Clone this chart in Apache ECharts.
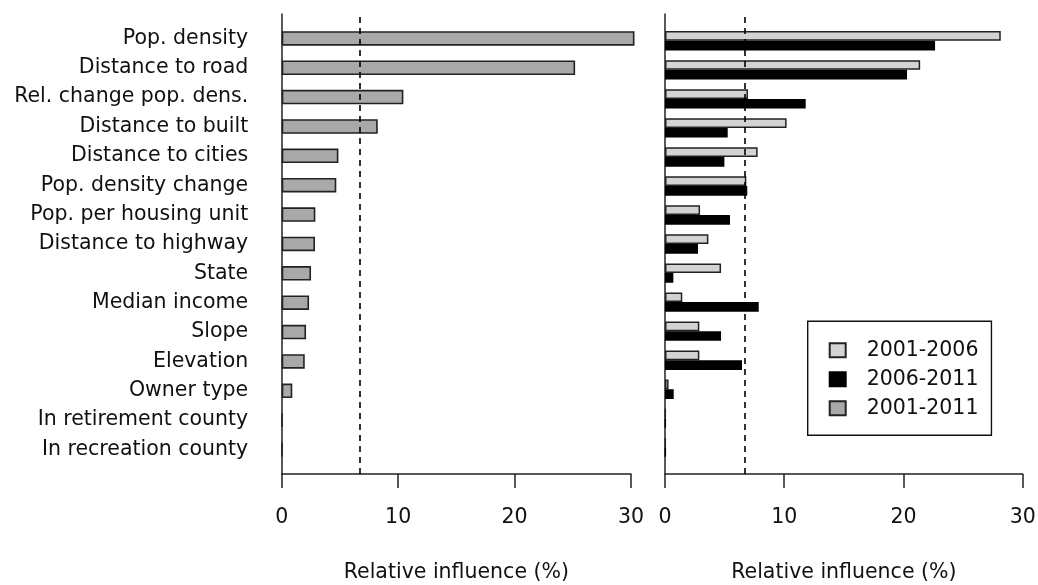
<!DOCTYPE html>
<html>
<head>
<meta charset="utf-8">
<script src="https://cdn.jsdelivr.net/npm/echarts@6/dist/echarts.min.js"></script>
<style>html,body{margin:0;padding:0;background:#fff;}#c{width:1038px;height:585px;}</style>
</head>
<body>
<div id="c"></div>
<script>
const categories = ['Pop. density','Distance to road','Rel. change pop. dens.','Distance to built','Distance to cities','Pop. density change','Pop. per housing unit','Distance to highway','State','Median income','Slope','Elevation','Owner type','In retirement county','In recreation county'];
const influence2001_2011 = [30.3, 25.2, 10.45, 8.25, 4.87, 4.69, 2.89, 2.86, 2.52, 2.35, 2.09, 1.98, 0.91, 0.05, 0.05];
const influence2001_2006 = [28.16, 21.4, 6.96, 10.2, 7.77, 6.82, 2.94, 3.64, 4.7, 1.45, 2.88, 2.88, 0.3, 0.05, 0.05];
const influence2006_2011 = [22.65, 20.3, 11.8, 5.26, 4.98, 6.9, 5.45, 2.77, 0.7, 7.86, 4.7, 6.46, 0.73, 0.05, 0.05];
const xTicks = [0, 10, 20, 30];
const referenceLine = 6.667; // 100% / 15 predictors
const axisTitle = 'Relative influence (%)';
const seriesNames = ['2001-2006', '2006-2011', '2001-2011'];

const FONT = 'DejaVu Sans';
const FS = 20.5;
const INK = '#222';

const chart = echarts.init(document.getElementById('c'), null, {renderer: 'canvas'});

function frameX(gridIndex) {
  return {
    type: 'value', gridIndex: gridIndex, min: xTicks[0], max: xTicks[xTicks.length - 1], interval: 10,
    axisLine: {show: true, onZero: false, lineStyle: {color: INK, width: 1.5}},
    axisTick: {show: true, inside: false, length: 14, lineStyle: {color: INK, width: 1.5}},
    axisLabel: {show: true, margin: 33, fontFamily: FONT, fontSize: FS, color: '#111'},
    splitLine: {show: false},
    name: axisTitle, nameLocation: 'middle', nameGap: 88,
    nameTextStyle: {fontFamily: FONT, fontSize: FS, color: '#111'}
  };
}
function hiddenX(gridIndex) {
  return {type: 'value', gridIndex: gridIndex, min: xTicks[0], max: xTicks[xTicks.length - 1], show: false};
}
function frameY(gridIndex) {
  return {
    type: 'value', gridIndex: gridIndex, min: 0, max: 1,
    axisLine: {show: true, onZero: false, lineStyle: {color: INK, width: 1.5}},
    axisTick: {show: false}, axisLabel: {show: false}, splitLine: {show: false}
  };
}
function catY(gridIndex, showLabels) {
  return {
    type: 'category', gridIndex: gridIndex, data: categories, inverse: true,
    axisLine: {show: false}, axisTick: {show: false}, splitLine: {show: false},
    axisLabel: {show: showLabels, margin: 33.5, fontFamily: FONT, fontSize: FS, color: '#111', interval: 0}
  };
}
function refLine(xi, yi) {
  return {
    type: 'line', xAxisIndex: xi, yAxisIndex: yi, data: [], z: 10, silent: true,
    markLine: {
      silent: true, symbol: 'none', label: {show: false},
      lineStyle: {color: '#000', type: [6, 5], width: 1.6},
      emphasis: {disabled: true},
      data: [{xAxis: referenceLine}]
    }
  };
}

const option = {
  backgroundColor: '#fff',
  animation: false,
  grid: [
    {left: 281.7, top: 14, width: 349.3, height: 460, containLabel: false, outerBoundsMode: 'none'},
    {left: 281.7, top: 23.7, width: 349.3, height: 440.5, containLabel: false, outerBoundsMode: 'none'},
    {left: 665, top: 14, width: 357.7, height: 460, containLabel: false, outerBoundsMode: 'none'},
    {left: 665, top: 26.3, width: 357.7, height: 435.5, containLabel: false, outerBoundsMode: 'none'}
  ],
  xAxis: [frameX(0), hiddenX(1), frameX(2), hiddenX(3)],
  yAxis: [frameY(0), catY(1, true), frameY(2), catY(3, false)],
  legend: {
    show: true,
    data: seriesNames,
    orient: 'vertical',
    left: 807.7, top: 321.3,
    padding: [17, 13, 15, 21],
    borderColor: '#111', borderWidth: 1.4,
    itemWidth: 16, itemHeight: 14, itemGap: 5,
    icon: 'rect',
    selectedMode: false,
    textStyle: {fontFamily: FONT, fontSize: FS, color: '#111', padding: [0, 0, 0, 16], lineHeight: 24}
  },
  series: [
    {
      name: seriesNames[2], type: 'bar', xAxisIndex: 1, yAxisIndex: 1,
      data: influence2001_2011, barWidth: 14.5, clip: false,
      itemStyle: {color: '#a9a9a9', borderColor: INK, borderWidth: 1.6}
    },
    {
      name: seriesNames[0], type: 'bar', xAxisIndex: 3, yAxisIndex: 3,
      data: influence2001_2006, barWidth: 9.7, barGap: '0%', clip: false,
      itemStyle: {color: '#d3d3d3', borderColor: INK, borderWidth: 1.5}
    },
    {
      name: seriesNames[1], type: 'bar', xAxisIndex: 3, yAxisIndex: 3,
      data: influence2006_2011, barWidth: 9.7, barGap: '0%', clip: false,
      itemStyle: {color: '#000', borderColor: '#000', borderWidth: 1.5}
    },
    refLine(0, 0),
    refLine(2, 2)
  ]
};
chart.setOption(option);
</script>
</body>
</html>
